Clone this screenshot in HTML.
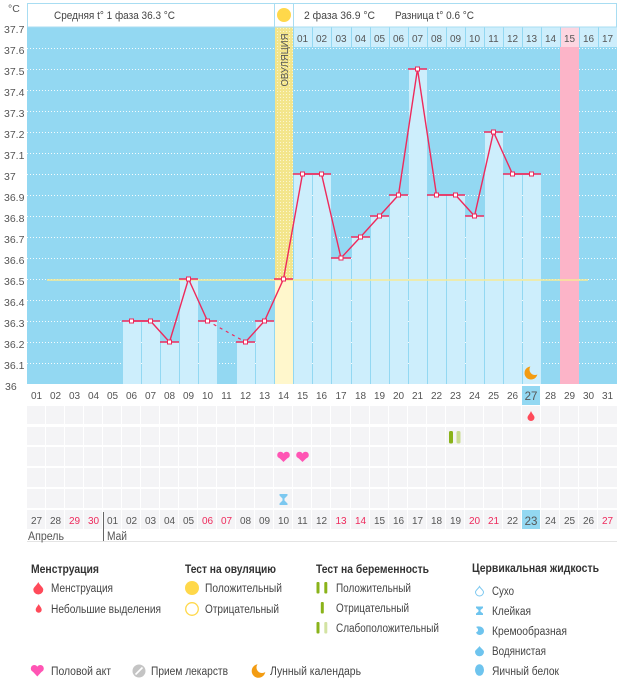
<!DOCTYPE html>
<html><head><meta charset="utf-8"><style>html,body{margin:0;padding:0;background:#fff}svg{display:block}</style></head><body>
<svg width="626" height="678" viewBox="0 0 626 678" xmlns="http://www.w3.org/2000/svg" font-family="'Liberation Sans','DejaVu Sans',sans-serif">
<defs>
<pattern id="dots" width="3" height="3" patternUnits="userSpaceOnUse"><rect width="3" height="3" fill="#f3e58b"/><rect x="1" y="1" width="1" height="1" fill="#fbf5cf"/></pattern>
<mask id="moonmask"><rect x="0" y="0" width="626" height="678" fill="#fff"/><circle cx="535" cy="369.5" r="5.5" fill="#000"/><circle cx="262" cy="667.5" r="5.5" fill="#000"/></mask>
</defs>
<rect width="626" height="678" fill="#fff"/>
<!-- chart bg -->
<rect x="27" y="27" width="590" height="357" fill="#93d8f2"/>
<!-- dotted grid -->
<g stroke="#ffffff" stroke-width="1" stroke-dasharray="1 2" opacity="0.9">
<line x1="27" x2="617" y1="363.5" y2="363.5"/><line x1="27" x2="617" y1="342.5" y2="342.5"/><line x1="27" x2="617" y1="321.5" y2="321.5"/><line x1="27" x2="617" y1="300.5" y2="300.5"/><line x1="27" x2="617" y1="279.5" y2="279.5"/><line x1="27" x2="617" y1="258.5" y2="258.5"/><line x1="27" x2="617" y1="237.5" y2="237.5"/><line x1="27" x2="617" y1="216.5" y2="216.5"/><line x1="27" x2="617" y1="195.5" y2="195.5"/><line x1="27" x2="617" y1="174.5" y2="174.5"/><line x1="27" x2="617" y1="153.5" y2="153.5"/><line x1="27" x2="617" y1="132.5" y2="132.5"/><line x1="27" x2="617" y1="111.5" y2="111.5"/><line x1="27" x2="617" y1="90.5" y2="90.5"/><line x1="27" x2="617" y1="69.5" y2="69.5"/><line x1="27" x2="617" y1="48.5" y2="48.5"/>
</g>
<!-- pink column -->
<rect x="560" y="47" width="19" height="337" fill="#fcb4c8"/>
<!-- bars -->
<g fill="#cdeefc">
<rect x="123" y="321" width="18" height="63"/><rect x="142" y="321" width="18" height="63"/><rect x="161" y="342" width="18" height="42"/><rect x="180" y="279" width="18" height="105"/><rect x="199" y="321" width="18" height="63"/><rect x="237" y="342" width="18" height="42"/><rect x="256" y="321" width="18" height="63"/>
<rect x="294" y="174" width="18" height="210"/><rect x="313" y="174" width="18" height="210"/><rect x="332" y="258" width="19" height="126"/><rect x="352" y="237" width="18" height="147"/><rect x="371" y="216" width="18" height="168"/><rect x="390" y="195" width="18" height="189"/><rect x="409" y="69" width="18" height="315"/><rect x="428" y="195" width="18" height="189"/><rect x="447" y="195" width="18" height="189"/><rect x="466" y="216" width="18" height="168"/><rect x="485" y="132" width="18" height="252"/><rect x="504" y="174" width="18" height="210"/><rect x="523" y="174" width="18" height="210"/>
</g>
<!-- ovulation column -->
<rect x="275" y="27" width="18" height="252" fill="url(#dots)"/>
<rect x="275" y="279" width="18" height="105" fill="#fff7cc"/>
<text transform="translate(288,60) rotate(-90)" text-anchor="middle" font-size="10" fill="#555" textLength="53" lengthAdjust="spacingAndGlyphs">ОВУЛЯЦИЯ</text>
<!-- header day cells -->
<g fill="#cdeefc">
<rect x="294" y="27" width="18" height="20"/><rect x="313" y="27" width="18" height="20"/><rect x="332" y="27" width="19" height="20"/><rect x="352" y="27" width="18" height="20"/><rect x="371" y="27" width="18" height="20"/><rect x="390" y="27" width="18" height="20"/><rect x="409" y="27" width="18" height="20"/><rect x="428" y="27" width="18" height="20"/><rect x="447" y="27" width="18" height="20"/><rect x="466" y="27" width="18" height="20"/><rect x="485" y="27" width="18" height="20"/><rect x="504" y="27" width="18" height="20"/><rect x="523" y="27" width="18" height="20"/><rect x="542" y="27" width="18" height="20"/><rect x="580" y="27" width="18" height="20"/><rect x="599" y="27" width="18" height="20"/>
</g>
<rect x="561" y="27" width="18" height="20" fill="#fdd6e1"/>
<g font-size="10" fill="#555" text-anchor="middle">
<text x="302.5" y="42">01</text><text x="321.5" y="42">02</text><text x="341" y="42">03</text><text x="360.5" y="42">04</text><text x="379.5" y="42">05</text><text x="398.5" y="42">06</text><text x="417.5" y="42">07</text><text x="436.5" y="42">08</text><text x="455.5" y="42">09</text><text x="474.5" y="42">10</text><text x="493.5" y="42">11</text><text x="512.5" y="42">12</text><text x="531.5" y="42">13</text><text x="550.5" y="42">14</text><text x="569.5" y="42">15</text><text x="588.5" y="42">16</text><text x="607.5" y="42">17</text>
</g>
<!-- cover line -->
<line x1="47" x2="588" y1="280" y2="280" stroke="#f7ea95" stroke-width="1.6"/>
<!-- bar tops -->
<g stroke="#ee2a5c" stroke-width="1.5">
<line x1="122" x2="141" y1="321" y2="321"/><line x1="141" x2="160" y1="321" y2="321"/><line x1="160" x2="179" y1="342" y2="342"/><line x1="179" x2="198" y1="279" y2="279"/><line x1="198" x2="217" y1="321" y2="321"/><line x1="236" x2="255" y1="342" y2="342"/><line x1="255" x2="274" y1="321" y2="321"/><line x1="274" x2="293" y1="279" y2="279"/><line x1="293" x2="312" y1="174" y2="174"/><line x1="312" x2="331" y1="174" y2="174"/><line x1="331" x2="351" y1="258" y2="258"/><line x1="351" x2="370" y1="237" y2="237"/><line x1="370" x2="389" y1="216" y2="216"/><line x1="389" x2="408" y1="195" y2="195"/><line x1="408" x2="427" y1="69" y2="69"/><line x1="427" x2="446" y1="195" y2="195"/><line x1="446" x2="465" y1="195" y2="195"/><line x1="465" x2="484" y1="216" y2="216"/><line x1="484" x2="503" y1="132" y2="132"/><line x1="503" x2="522" y1="174" y2="174"/><line x1="522" x2="541" y1="174" y2="174"/>
</g>
<!-- temperature line -->
<polyline fill="none" stroke="#ee2a5c" stroke-width="1.4" points="131.5,321 150.5,321 169.5,342 188.5,279 207.5,321"/>
<line x1="207.5" y1="321" x2="245.5" y2="342" stroke="#ee2a5c" stroke-width="1.2" stroke-dasharray="3 4"/>
<polyline fill="none" stroke="#ee2a5c" stroke-width="1.4" points="245.5,342 264.5,321 283.5,279 302.5,174 321.5,174 341,258 360.5,237 379.5,216 398.5,195 417.5,69 436.5,195 455.5,195 474.5,216 493.5,132 512.5,174 531.5,174"/>
<g fill="#fff" stroke="#ee2a5c" stroke-width="1">
<rect x="129.5" y="319" width="4" height="4"/><rect x="148.5" y="319" width="4" height="4"/><rect x="167.5" y="340" width="4" height="4"/><rect x="186.5" y="277" width="4" height="4"/><rect x="205.5" y="319" width="4" height="4"/><rect x="243.5" y="340" width="4" height="4"/><rect x="262.5" y="319" width="4" height="4"/><rect x="281.5" y="277" width="4" height="4"/><rect x="300.5" y="172" width="4" height="4"/><rect x="319.5" y="172" width="4" height="4"/><rect x="339" y="256" width="4" height="4"/><rect x="358.5" y="235" width="4" height="4"/><rect x="377.5" y="214" width="4" height="4"/><rect x="396.5" y="193" width="4" height="4"/><rect x="415.5" y="67" width="4" height="4"/><rect x="434.5" y="193" width="4" height="4"/><rect x="453.5" y="193" width="4" height="4"/><rect x="472.5" y="214" width="4" height="4"/><rect x="491.5" y="130" width="4" height="4"/><rect x="510.5" y="172" width="4" height="4"/><rect x="529.5" y="172" width="4" height="4"/>
</g>
<!-- moon in chart -->
<circle cx="531" cy="373" r="6.5" fill="#f39c12" mask="url(#moonmask)"/>
<!-- header box -->
<rect x="27.5" y="3.5" width="589" height="23.5" fill="#fff" stroke="#a8ddf2" stroke-width="1"/>
<line x1="274.5" x2="274.5" y1="3" y2="27" stroke="#a8ddf2"/>
<line x1="293.5" x2="293.5" y1="3" y2="27" stroke="#a8ddf2"/>
<circle cx="284" cy="15" r="7" fill="#ffd84a"/>
<g font-size="11" fill="#444">
<text x="54" y="19" textLength="121" lengthAdjust="spacingAndGlyphs">Средняя t° 1 фаза 36.3 °C</text>
<text x="304" y="19" textLength="71" lengthAdjust="spacingAndGlyphs">2 фаза 36.9 °C</text>
<text x="395" y="19" textLength="79" lengthAdjust="spacingAndGlyphs">Разница t° 0.6 °C</text>
</g>
<!-- y axis -->
<g font-size="10.5" fill="#555">
<text x="8" y="12">°C</text>
<text x="4" y="33">37.7</text><text x="4" y="54">37.6</text><text x="4" y="75">37.5</text><text x="4" y="96">37.4</text><text x="4" y="117">37.3</text><text x="4" y="138">37.2</text><text x="4" y="159">37.1</text><text x="4" y="180">37</text><text x="4" y="201">36.9</text><text x="4" y="222">36.8</text><text x="4" y="243">36.7</text><text x="4" y="264">36.6</text><text x="4" y="285">36.5</text><text x="4" y="306">36.4</text><text x="4" y="327">36.3</text><text x="4" y="348">36.2</text><text x="4" y="369">36.1</text><text x="5" y="390">36</text>
</g>
<!-- bottom grid cells -->
<g fill="#f4f4f6">
<rect x="27" y="406" width="590" height="18"/><rect x="27" y="427" width="590" height="18"/><rect x="27" y="447" width="590" height="19"/><rect x="27" y="468" width="590" height="19"/><rect x="27" y="489" width="590" height="19"/><rect x="27" y="510" width="590" height="19"/>
</g>
<g stroke="#fff" stroke-width="1">
<line x1="45.5" x2="45.5" y1="406" y2="530"/><line x1="64.5" x2="64.5" y1="406" y2="530"/><line x1="83.5" x2="83.5" y1="406" y2="530"/><line x1="102.5" x2="102.5" y1="406" y2="530"/><line x1="121.5" x2="121.5" y1="406" y2="530"/><line x1="140.5" x2="140.5" y1="406" y2="530"/><line x1="159.5" x2="159.5" y1="406" y2="530"/><line x1="178.5" x2="178.5" y1="406" y2="530"/><line x1="197.5" x2="197.5" y1="406" y2="530"/><line x1="216.5" x2="216.5" y1="406" y2="530"/><line x1="235.5" x2="235.5" y1="406" y2="530"/><line x1="254.5" x2="254.5" y1="406" y2="530"/><line x1="273.5" x2="273.5" y1="406" y2="530"/><line x1="292.5" x2="292.5" y1="406" y2="530"/><line x1="311.5" x2="311.5" y1="406" y2="530"/><line x1="330.5" x2="330.5" y1="406" y2="530"/><line x1="350.5" x2="350.5" y1="406" y2="530"/><line x1="369.5" x2="369.5" y1="406" y2="530"/><line x1="388.5" x2="388.5" y1="406" y2="530"/><line x1="407.5" x2="407.5" y1="406" y2="530"/><line x1="426.5" x2="426.5" y1="406" y2="530"/><line x1="445.5" x2="445.5" y1="406" y2="530"/><line x1="464.5" x2="464.5" y1="406" y2="530"/><line x1="483.5" x2="483.5" y1="406" y2="530"/><line x1="502.5" x2="502.5" y1="406" y2="530"/><line x1="521.5" x2="521.5" y1="406" y2="530"/><line x1="540.5" x2="540.5" y1="406" y2="530"/><line x1="559.5" x2="559.5" y1="406" y2="530"/><line x1="578.5" x2="578.5" y1="406" y2="530"/><line x1="597.5" x2="597.5" y1="406" y2="530"/>
</g>
<!-- highlights -->
<rect x="522" y="386" width="18" height="19" fill="#93d8f2"/>
<rect x="522" y="510" width="18" height="19" fill="#93d8f2"/>
<!-- bottom day numbers -->
<g font-size="10" fill="#555" text-anchor="middle">
<text x="36.5" y="399">01</text><text x="55.5" y="399">02</text><text x="74.5" y="399">03</text><text x="93.5" y="399">04</text><text x="112.5" y="399">05</text><text x="131.5" y="399">06</text><text x="150.5" y="399">07</text><text x="169.5" y="399">08</text><text x="188.5" y="399">09</text><text x="207.5" y="399">10</text><text x="226.5" y="399">11</text><text x="245.5" y="399">12</text><text x="264.5" y="399">13</text><text x="283.5" y="399">14</text><text x="302.5" y="399">15</text><text x="321.5" y="399">16</text><text x="341" y="399">17</text><text x="360.5" y="399">18</text><text x="379.5" y="399">19</text><text x="398.5" y="399">20</text><text x="417.5" y="399">21</text><text x="436.5" y="399">22</text><text x="455.5" y="399">23</text><text x="474.5" y="399">24</text><text x="493.5" y="399">25</text><text x="512.5" y="399">26</text><text x="531" y="400" font-size="11.5">27</text><text x="550.5" y="399">28</text><text x="569.5" y="399">29</text><text x="588.5" y="399">30</text><text x="607.5" y="399">31</text>
</g>
<!-- date row -->
<g font-size="10" fill="#555" text-anchor="middle">
<text x="36.5" y="524">27</text><text x="55.5" y="524">28</text><text x="74.5" y="524" fill="#ee2a5c">29</text><text x="93.5" y="524" fill="#ee2a5c">30</text><text x="112.5" y="524">01</text><text x="131.5" y="524">02</text><text x="150.5" y="524">03</text><text x="169.5" y="524">04</text><text x="188.5" y="524">05</text><text x="207.5" y="524" fill="#ee2a5c">06</text><text x="226.5" y="524" fill="#ee2a5c">07</text><text x="245.5" y="524">08</text><text x="264.5" y="524">09</text><text x="283.5" y="524">10</text><text x="302.5" y="524">11</text><text x="321.5" y="524">12</text><text x="341" y="524" fill="#ee2a5c">13</text><text x="360.5" y="524" fill="#ee2a5c">14</text><text x="379.5" y="524">15</text><text x="398.5" y="524">16</text><text x="417.5" y="524">17</text><text x="436.5" y="524">18</text><text x="455.5" y="524">19</text><text x="474.5" y="524" fill="#ee2a5c">20</text><text x="493.5" y="524" fill="#ee2a5c">21</text><text x="512.5" y="524">22</text><text x="531" y="525" font-size="11.5">23</text><text x="550.5" y="524">24</text><text x="569.5" y="524">25</text><text x="588.5" y="524">26</text><text x="607.5" y="524" fill="#ee2a5c">27</text>
</g>
<!-- month labels -->
<line x1="27" x2="617" y1="541.5" y2="541.5" stroke="#e4e4e4"/>
<line x1="103.5" x2="103.5" y1="512" y2="541" stroke="#666"/>
<text x="28" y="540" font-size="11.5" fill="#555" textLength="36" lengthAdjust="spacingAndGlyphs">Апрель</text>
<text x="107" y="540" font-size="11.5" fill="#555" textLength="20" lengthAdjust="spacingAndGlyphs">Май</text>
<!-- markers in grid -->
<path d="M531 411 C532 414 534.5 415.5 534.5 417.5 A3.5 3.5 0 0 1 527.5 417.5 C527.5 415.5 530 414 531 411 Z" fill="#ff4a5a"/>
<rect x="449" y="431" width="4" height="12.5" rx="1.5" fill="#8ab31a"/>
<rect x="456.5" y="431" width="4" height="12.5" rx="1.5" fill="#cadd90"/>
<g fill="#ff55b4">
<circle cx="280.5" cy="455" r="3.3"/><circle cx="286.5" cy="455" r="3.3"/><path d="M277.3 456 L289.7 456 L283.5 462 Z"/>
<circle cx="299.5" cy="455" r="3.3"/><circle cx="305.5" cy="455" r="3.3"/><path d="M296.3 456 L308.7 456 L302.5 462 Z"/>
</g>
<path d="M279.5 494 H287.5 V495.5 L284.5 498.5 V500.5 L287.5 503.5 V505 H279.5 V503.5 L282.5 500.5 V498.5 L279.5 495.5 Z" fill="#7cc8f0"/>
<!-- legend -->
<g font-size="12" font-weight="bold" fill="#333">
<text x="31" y="573" textLength="68" lengthAdjust="spacingAndGlyphs">Менструация</text>
<text x="185" y="573" textLength="91" lengthAdjust="spacingAndGlyphs">Тест на овуляцию</text>
<text x="316" y="573" textLength="113" lengthAdjust="spacingAndGlyphs">Тест на беременность</text>
<text x="472" y="572" textLength="127" lengthAdjust="spacingAndGlyphs">Цервикальная жидкость</text>
</g>
<g font-size="11.5" fill="#444">
<text x="51" y="592" textLength="62" lengthAdjust="spacingAndGlyphs">Менструация</text>
<text x="51" y="613" textLength="110" lengthAdjust="spacingAndGlyphs">Небольшие выделения</text>
<text x="205" y="592" textLength="77" lengthAdjust="spacingAndGlyphs">Положительный</text>
<text x="205" y="613" textLength="74" lengthAdjust="spacingAndGlyphs">Отрицательный</text>
<text x="336" y="592" textLength="75" lengthAdjust="spacingAndGlyphs">Положительный</text>
<text x="336" y="612" textLength="73" lengthAdjust="spacingAndGlyphs">Отрицательный</text>
<text x="336" y="632" textLength="103" lengthAdjust="spacingAndGlyphs">Слабоположительный</text>
<text x="492" y="595" textLength="22" lengthAdjust="spacingAndGlyphs">Сухо</text>
<text x="492" y="615" textLength="39" lengthAdjust="spacingAndGlyphs">Клейкая</text>
<text x="492" y="635" textLength="75" lengthAdjust="spacingAndGlyphs">Кремообразная</text>
<text x="492" y="655" textLength="54" lengthAdjust="spacingAndGlyphs">Водянистая</text>
<text x="492" y="675" textLength="67" lengthAdjust="spacingAndGlyphs">Яичный белок</text>
<text x="51" y="675" textLength="60" lengthAdjust="spacingAndGlyphs">Половой акт</text>
<text x="151" y="675" textLength="77" lengthAdjust="spacingAndGlyphs">Прием лекарств</text>
<text x="270" y="675" textLength="91" lengthAdjust="spacingAndGlyphs">Лунный календарь</text>
</g>
<!-- legend icons -->
<path d="M38.3 582 C39.5 585 43.3 587.5 43.3 589.5 A5 5 0 0 1 33.3 589.5 C33.3 587.5 37 585 38.3 582 Z" fill="#ff4a5a"/>
<path d="M38.7 604 C39.5 606 41.7 607.5 41.7 609.8 A3 3 0 0 1 35.7 609.8 C35.7 607.5 38 606 38.7 604 Z" fill="#ff4a5a"/>
<circle cx="192" cy="588" r="7" fill="#ffd84a"/>
<circle cx="192" cy="609" r="6.3" fill="#fff" stroke="#ffd84a" stroke-width="1.3"/>
<rect x="316.5" y="582" width="3" height="11.5" rx="1" fill="#8ab31a"/><rect x="324.3" y="582" width="3" height="11.5" rx="1" fill="#8ab31a"/>
<rect x="320.8" y="602" width="3" height="11.5" rx="1" fill="#8ab31a"/>
<rect x="316.5" y="622" width="3" height="11.5" rx="1" fill="#8ab31a"/><rect x="324.3" y="622" width="3" height="11.5" rx="1" fill="#d3e3a3"/>
<path d="M479.5 586.5 C480.5 588.5 483.5 590.3 483.5 592 A4 4 0 0 1 475.5 592 C475.5 590.3 478.5 588.5 479.5 586.5 Z" fill="#fff" stroke="#7cc8f0" stroke-width="1"/>
<path d="M476 606.5 H483 V608 L480.5 610 V611.5 L483 613.5 V615 H476 V613.5 L478.5 611.5 V610 L476 608 Z" fill="#6ec4ee"/>
<path d="M476 627 C479 625.5 484 627 484 631 A4.2 4.2 0 0 1 476 632.5 C478.5 631.5 479 629 476 627 Z" fill="#6ec4ee"/>
<path d="M479.5 646 C480.5 648 484 650 484 651.8 A4.5 4.5 0 0 1 475 651.8 C475 650 478.5 648 479.5 646 Z" fill="#6ec4ee"/>
<ellipse cx="479.5" cy="670" rx="4.5" ry="5.8" fill="#6ec4ee"/>
<g fill="#ff55b4"><circle cx="34.3" cy="668.5" r="3.5"/><circle cx="40.3" cy="668.5" r="3.5"/><path d="M30.9 669.5 L43.7 669.5 L37.3 676.5 Z"/></g>
<circle cx="139" cy="671" r="6.5" fill="#c4c4c4"/>
<line x1="135.5" y1="674.5" x2="142.5" y2="667.5" stroke="#fff" stroke-width="1.6"/>
<circle cx="258.5" cy="671" r="6.8" fill="#f39c12" mask="url(#moonmask)"/>
</svg>
</body></html>
